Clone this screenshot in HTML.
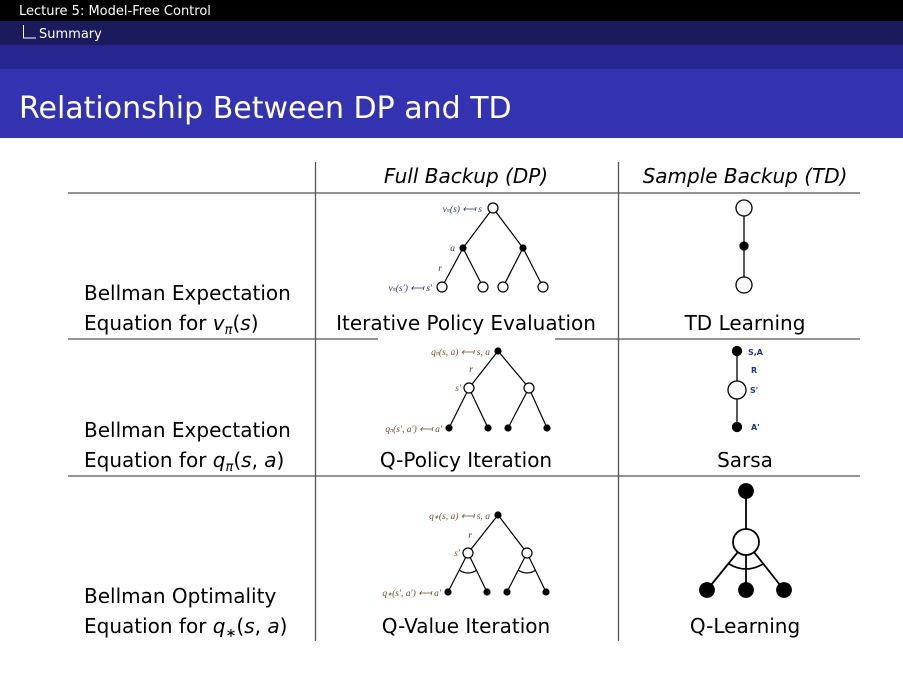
<!DOCTYPE html>
<html><head><meta charset="utf-8"><style>
body{margin:0;width:903px;height:674px;overflow:hidden;background:#fff}
svg{display:block}
text{font-family:"DejaVu Sans","Liberation Sans",sans-serif}
.big{font-size:20px;fill:#000}
.sm{font-family:"Liberation Serif",serif;font-size:9.5px;fill:#2a3a6a;font-style:italic}
.smo{font-family:"Liberation Serif",serif;font-size:9.5px;fill:#7a4a2a;font-style:italic}
</style></head><body>
<svg width="903" height="674" viewBox="0 0 903 674">
<rect x="0" y="0" width="903" height="21" fill="#000"/>
<rect x="0" y="21" width="903" height="24" fill="#1b1a5c"/>
<rect x="0" y="45" width="903" height="24" fill="#272690"/>
<rect x="0" y="69" width="903" height="69" fill="#3333b2"/>
<text x="19" y="15" fill="#fff" font-size="13">Lecture 5: Model-Free Control</text>
<path d="M23.5 25 V38 H36" stroke="#fff" fill="none" stroke-width="1"/>
<text x="39" y="38" fill="#fff" font-size="13">Summary</text>
<text x="19" y="118" fill="#fff" font-size="30">Relationship Between DP and TD</text>

<g stroke="#555" stroke-width="1.3" fill="none">
<line x1="68" y1="193" x2="860" y2="193"/>
<line x1="68" y1="339" x2="860" y2="339"/>
<line x1="68" y1="476" x2="860" y2="476"/>
<line x1="315.5" y1="162" x2="315.5" y2="641"/>
<line x1="618.5" y1="162" x2="618.5" y2="641"/>
</g>
<rect x="378" y="336" width="177" height="4" fill="#fff"/>

<text class="big" x="466" y="183" text-anchor="middle" font-style="italic">Full Backup (DP)</text>
<text class="big" x="745" y="183" text-anchor="middle" font-style="italic">Sample Backup (TD)</text>

<text class="big" x="84" y="300">Bellman Expectation</text>
<text class="big" x="84" y="330">Equation for <tspan font-style="italic">v</tspan><tspan font-size="13" font-style="italic" dy="4">π</tspan><tspan dy="-4">(</tspan><tspan font-style="italic">s</tspan>)</text>
<text class="big" x="84" y="437">Bellman Expectation</text>
<text class="big" x="84" y="467">Equation for <tspan font-style="italic">q</tspan><tspan font-size="13" font-style="italic" dy="4">π</tspan><tspan dy="-4">(</tspan><tspan font-style="italic">s</tspan>, <tspan font-style="italic">a</tspan>)</text>
<text class="big" x="84" y="603">Bellman Optimality</text>
<text class="big" x="84" y="633">Equation for <tspan font-style="italic">q</tspan><tspan font-size="13" font-style="italic" dy="4">∗</tspan><tspan dy="-4">(</tspan><tspan font-style="italic">s</tspan>, <tspan font-style="italic">a</tspan>)</text>

<text class="big" x="466" y="330" text-anchor="middle">Iterative Policy Evaluation</text>
<text class="big" x="466" y="467" text-anchor="middle">Q-Policy Iteration</text>
<text class="big" x="466" y="633" text-anchor="middle">Q-Value Iteration</text>
<text class="big" x="745" y="330" text-anchor="middle">TD Learning</text>
<text class="big" x="745" y="467" text-anchor="middle">Sarsa</text>
<text class="big" x="745" y="633" text-anchor="middle">Q-Learning</text>

<g stroke="#000" stroke-width="1.2" fill="#fff">
<line x1="493" y1="208" x2="463" y2="248"/><line x1="493" y1="208" x2="523" y2="248"/>
<line x1="463" y1="248" x2="442" y2="287"/><line x1="463" y1="248" x2="483" y2="287"/>
<line x1="523" y1="248" x2="503" y2="287"/><line x1="523" y1="248" x2="543" y2="287"/>
<circle cx="493" cy="208" r="5"/>
<circle cx="442" cy="287" r="5"/><circle cx="483" cy="287" r="5"/><circle cx="503" cy="287" r="5"/><circle cx="543" cy="287" r="5"/>
<circle cx="463" cy="248" r="3" fill="#000"/><circle cx="523" cy="248" r="3" fill="#000"/>
</g>
<text class="sm" x="482" y="212" text-anchor="end">v<tspan font-size="6">π</tspan>(s) ⟻ s</text>
<text class="sm" x="455" y="251" text-anchor="end">a</text>
<text class="sm" x="442" y="271" text-anchor="end">r</text>
<text class="sm" x="432" y="291" text-anchor="end">v<tspan font-size="6">π</tspan>(s′) ⟻ s′</text>

<g stroke="#000" stroke-width="1.2" fill="#fff">
<line x1="498" y1="351" x2="469" y2="388"/><line x1="498" y1="351" x2="529" y2="388"/>
<line x1="469" y1="388" x2="449" y2="428"/><line x1="469" y1="388" x2="488" y2="428"/>
<line x1="529" y1="388" x2="508" y2="428"/><line x1="529" y1="388" x2="547" y2="428"/>
<circle cx="469" cy="388" r="5"/><circle cx="529" cy="388" r="5"/>
<g fill="#000"><circle cx="498" cy="351" r="3"/><circle cx="449" cy="428" r="3"/><circle cx="488" cy="428" r="3"/><circle cx="508" cy="428" r="3"/><circle cx="547" cy="428" r="3"/></g>
</g>
<text class="smo" x="490" y="355" text-anchor="end">q<tspan font-size="6">π</tspan>(s, a) ⟻ s, a</text>
<text class="sm" x="473" y="372" text-anchor="end">r</text>
<text class="smo" x="461" y="391" text-anchor="end">s′</text>
<text class="smo" x="442" y="432" text-anchor="end">q<tspan font-size="6">π</tspan>(s′, a′) ⟻ a′</text>

<g stroke="#000" stroke-width="1.2" fill="#fff">
<line x1="498" y1="515" x2="468" y2="553"/><line x1="498" y1="515" x2="527" y2="553"/>
<line x1="468" y1="553" x2="448" y2="592"/><line x1="468" y1="553" x2="487" y2="592"/>
<line x1="527" y1="553" x2="507" y2="592"/><line x1="527" y1="553" x2="546" y2="592"/>
<path d="M459 570 Q468 576 477 570" fill="none"/><path d="M518 570 Q527 576 536 570" fill="none"/>
<circle cx="468" cy="553" r="5"/><circle cx="527" cy="553" r="5"/>
<g fill="#000"><circle cx="498" cy="515" r="3"/><circle cx="448" cy="592" r="3"/><circle cx="487" cy="592" r="3"/><circle cx="507" cy="592" r="3"/><circle cx="546" cy="592" r="3"/></g>
</g>
<text class="smo" x="490" y="519" text-anchor="end">q<tspan font-size="6">∗</tspan>(s, a) ⟻ s, a</text>
<text class="sm" x="472" y="538" text-anchor="end">r</text>
<text class="smo" x="460" y="556" text-anchor="end">s′</text>
<text class="smo" x="441" y="596" text-anchor="end">q<tspan font-size="6">∗</tspan>(s′, a′) ⟻ a′</text>

<g stroke="#000" stroke-width="1.3" fill="#fff">
<line x1="744" y1="208" x2="744" y2="285"/>
<circle cx="744" cy="208" r="8"/><circle cx="744" cy="285" r="8"/>
<circle cx="744" cy="246" r="4" fill="#000"/>
</g>
<g stroke="#000" stroke-width="1.3" fill="#fff">
<line x1="737" y1="351" x2="737" y2="427"/>
<circle cx="737" cy="390" r="9"/>
<circle cx="737" cy="351" r="4.5" fill="#000"/><circle cx="737" cy="427" r="4.5" fill="#000"/>
</g>
<text x="748" y="355" font-family="Liberation Serif,serif" font-size="8" font-weight="bold" fill="#1a3a8a">S,A</text>
<text x="751" y="373" font-family="Liberation Serif,serif" font-size="8" font-weight="bold" fill="#1a3a8a">R</text>
<text x="750" y="393" font-family="Liberation Serif,serif" font-size="8" font-weight="bold" fill="#1a3a8a">S'</text>
<text x="751" y="430" font-family="Liberation Serif,serif" font-size="8" font-weight="bold" fill="#1a3a8a">A'</text>
<g stroke="#000" stroke-width="1.8" fill="#fff">
<line x1="746" y1="491" x2="746" y2="542"/>
<line x1="746" y1="542" x2="707" y2="590"/><line x1="746" y1="542" x2="746" y2="590"/><line x1="746" y1="542" x2="784" y2="590"/>
<path d="M729 564 Q746 574 763 564" fill="none"/>
<circle cx="746" cy="542" r="13"/>
<g fill="#000"><circle cx="746" cy="491" r="7"/><circle cx="707" cy="590" r="7"/><circle cx="746" cy="590" r="7"/><circle cx="784" cy="590" r="7"/></g>
</g>
</svg>
</body></html>
